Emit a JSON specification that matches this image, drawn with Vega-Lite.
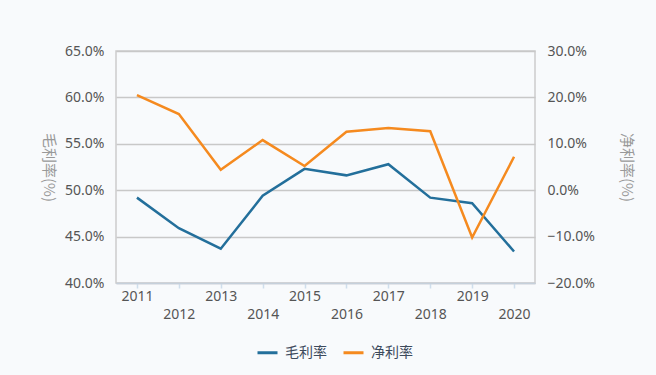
{
  "$schema": "https://vega.github.io/schema/vega-lite/v6.json",
  "autosize": "none",
  "width": 419,
  "height": 232,
  "padding": {"left": 116, "top": 51, "right": 121, "bottom": 92},
  "background": "#f8fafc",
  "config": {
    "font": "Noto Sans",
    "view": {"stroke": "#cccccc", "strokeWidth": 1.5},
    "axis": {"labelFont": "Noto Sans", "titleFont": "Noto Sans CJK SC"}
  },
  "data": {
    "values": [
      {"year": "2011", "gross": 49.2, "net": 20.5},
      {"year": "2012", "gross": 45.9, "net": 16.4},
      {"year": "2013", "gross": 43.7, "net": 4.4},
      {"year": "2014", "gross": 49.4, "net": 10.8},
      {"year": "2015", "gross": 52.3, "net": 5.2},
      {"year": "2016", "gross": 51.6, "net": 12.6},
      {"year": "2017", "gross": 52.8, "net": 13.4},
      {"year": "2018", "gross": 49.2, "net": 12.7},
      {"year": "2019", "gross": 48.6, "net": -10.2},
      {"year": "2020", "gross": 43.4, "net": 7.2}
    ]
  },
  "encoding": {
    "x": {
      "field": "year",
      "type": "ordinal",
      "scale": {"type": "point", "padding": 0.5},
      "axis": {
        "title": null,
        "labelAngle": 0,
        "labelColor": "#555555",
        "labelFontSize": 14,
        "domainColor": "#c5d0db",
        "domainWidth": 1.5,
        "tickColor": "#cfdeec",
        "tickWidth": 1.5,
        "tickSize": 5,
        "labelPadding": {"condition": {"test": "toNumber(datum.value) % 2 == 0", "value": 19}, "value": 1}
      }
    }
  },
  "layer": [
    {
      "mark": {"type": "line", "strokeWidth": 2.5},
      "encoding": {
        "y": {
          "field": "gross",
          "type": "quantitative",
          "scale": {"domain": [40, 65], "nice": false, "zero": false},
          "axis": {
            "title": "毛利率(%)",
            "titleAngle": 90,
            "titleColor": "#999999",
            "titleFontSize": 15,
            "titleFontWeight": "normal",
            "titlePadding": 24,
            "values": [40, 45, 50, 55, 60, 65],
            "labelExpr": "format(datum.value, '.1f') + '%'",
            "labelColor": "#555555",
            "labelFontSize": 14,
            "labelPadding": 12,
            "ticks": false,
            "domain": false,
            "grid": true,
            "gridColor": "#c8c8c8",
            "gridWidth": 1.5
          }
        },
        "color": {
          "datum": "毛利率",
          "type": "nominal",
          "scale": {"domain": ["毛利率", "净利率"], "range": ["#236f9b", "#f58a1f"]},
          "legend": {
            "title": null,
            "orient": "none",
            "direction": "horizontal",
            "legendX": 140,
            "legendY": 290,
            "symbolType": "stroke",
            "symbolSize": 400,
            "symbolStrokeWidth": 3,
            "labelFont": "Noto Sans CJK SC",
            "labelFontSize": 14,
            "labelColor": "#3d4a5c",
            "columnPadding": 10,
            "labelOffset": 6
          }
        }
      }
    },
    {
      "mark": {"type": "line", "strokeWidth": 2.5},
      "encoding": {
        "y": {
          "field": "net",
          "type": "quantitative",
          "scale": {"domain": [-20, 30], "nice": false, "zero": false},
          "axis": {
            "orient": "right",
            "title": "净利率(%)",
            "titleAngle": 90,
            "titleColor": "#999999",
            "titleFontSize": 15,
            "titleFontWeight": "normal",
            "titlePadding": 24,
            "values": [-20, -10, 0, 10, 20, 30],
            "labelExpr": "format(datum.value, '.1f') + '%'",
            "labelColor": "#555555",
            "labelFontSize": 14,
            "labelPadding": 12,
            "ticks": false,
            "domain": false,
            "grid": false
          }
        },
        "color": {"datum": "净利率", "type": "nominal"}
      }
    }
  ],
  "resolve": {"scale": {"y": "independent"}}
}
